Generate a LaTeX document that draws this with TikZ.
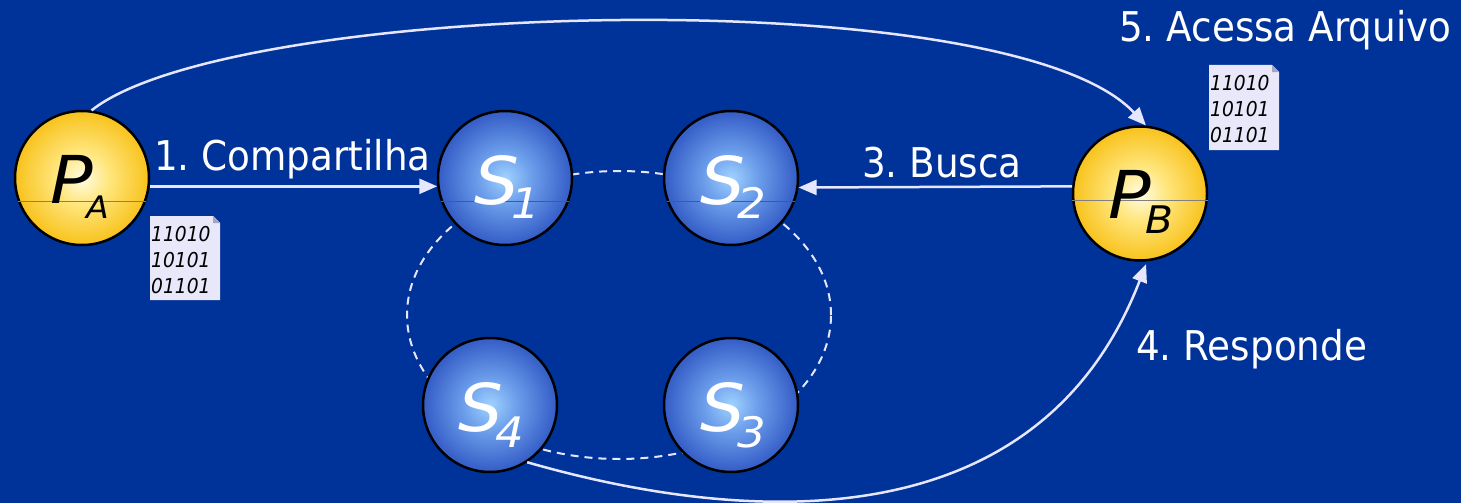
\documentclass[tikz,border=0pt]{standalone}
\usepackage{fontspec}
\setmainfont{DejaVu Sans}[FakeStretch=0.91]
\newfontfamily\lblf{DejaVu Sans}[FakeStretch=1.07]
\usetikzlibrary{arrows.meta}
\frenchspacing
\definecolor{bg}{RGB}{0,51,153}
\definecolor{arr}{RGB}{230,230,255}
\definecolor{filebg}{RGB}{232,232,250}
\definecolor{fold}{RGB}{165,165,190}
\definecolor{yca}{RGB}{255,252,228}
\definecolor{ycb}{RGB}{255,230,125}
\definecolor{ycc}{RGB}{248,194,28}
\definecolor{bca}{RGB}{160,210,255}
\definecolor{bcb}{RGB}{108,158,235}
\definecolor{bcc}{RGB}{52,92,198}
\definecolor{chy}{RGB}{128,128,128}
\definecolor{chb}{RGB}{50,90,190}
\pgfdeclareradialshading{yelball}{\pgfpoint{0bp}{0bp}}{color(0bp)=(yca); color(10bp)=(ycb); color(25bp)=(ycc); color(50bp)=(ycc)}
\pgfdeclareradialshading{bluball}{\pgfpoint{0bp}{0bp}}{color(0bp)=(bca); color(10bp)=(bcb); color(25bp)=(bcc); color(50bp)=(bcc)}
\tikzset{
 lab/.style={text=white, font=\fontsize{41}{49}\selectfont, anchor=base west, inner sep=0pt},
 conn/.style={draw=arr, line width=2.5pt, -{Triangle[length=18pt,width=15pt]}},
 ring/.style={draw=arr, line width=2pt, dash pattern=on 8pt off 6pt},
 peer/.style={circle, minimum size=134pt, inner sep=0pt, draw=black, line width=2.5pt, shading=yelball},
 srv/.style={peer, shading=bluball},
 big/.style={font=\lblf\itshape\fontsize{66}{66}\selectfont, anchor=base west, inner sep=0pt},
 subA/.style={font=\lblf\itshape\fontsize{31}{31}\selectfont, anchor=base west, inner sep=0pt},
 subB/.style={font=\lblf\itshape\fontsize{38}{38}\selectfont, anchor=base west, inner sep=0pt},
 subS/.style={font=\lblf\itshape\fontsize{42}{42}\selectfont, anchor=base west, inner sep=0pt},
 filetxt/.style={font=\itshape\fontsize{20.5}{26}\selectfont, align=left, anchor=north west, inner sep=0pt, text=black},
 chordY/.style={draw=chy, line width=1.2pt},
 chordB/.style={draw=chb, line width=1.2pt}
}
\begin{document}
\begin{tikzpicture}[x=1pt,y=-1pt]
\useasboundingbox (0,0) rectangle (1461,503);
\fill[bg] (0,0) rectangle (1461,503);
% dashed ring
\coordinate (rc) at (619,315);
\draw[ring] (rc) ellipse [x radius=212pt, y radius=144pt];
% nodes
\node[peer] (pa) at (82,178) {};
\node[srv] (s1) at (505,178) {};
\node[srv] (s2) at (731,178) {};
\node[srv] (s4) at (490,405) {};
\node[srv] (s3) at (731,405) {};
\node[peer] (pb) at (1140,193.5) {};
% chords
\draw[chordY] (pa.200) -- (pa.-20);
\draw[chordB] (s1.200) -- (s1.-20);
\draw[chordB] (s2.200) -- (s2.-20);
\draw[chordY] (pb.186.4) -- (pb.-6.4);
% node labels
\node[big, text=black] (pal) at ([shift={(-32,25)}]pa.center) {P};
\node[subA, text=black] (pas) at ([shift={(4,40)}]pa.center) {A};
\node[big, text=white] (s1l) at ([shift={(-31,26)}]s1.center) {S};
\node[subS, text=white] (s1s) at ([shift={(6,40)}]s1.center) {1};
\node[big, text=white] (s2l) at ([shift={(-31,26)}]s2.center) {S};
\node[subS, text=white] (s2s) at ([shift={(6,40)}]s2.center) {2};
\node[big, text=white] (s4l) at ([shift={(-32,26)}]s4.center) {S};
\node[subS, text=white] (s4s) at ([shift={(5,42)}]s4.center) {4};
\node[big, text=white] (s3l) at ([shift={(-31,26)}]s3.center) {S};
\node[subS, text=white] (s3s) at ([shift={(6,42)}]s3.center) {3};
\node[big, text=black] (pbl) at ([shift={(-32,24.5)}]pb.center) {P};
\node[subB, text=black] (pbs) at ([shift={(5,39.5)}]pb.center) {B};
% file icons
\coordinate (fa) at (150,216);
\fill[filebg] (fa) -- ++(63,0) -- ++(7,7) -- ++(0,77) -- ++(-70,0) -- cycle;
\fill[fold] ([shift={(63,0)}]fa) -- ++(7,7) -- ++(-7,0) -- cycle;
\node[filetxt] (fat) at ([shift={(1,10)}]fa) {11010\\10101\\01101};
\coordinate (fb) at (1209,65);
\fill[filebg] (fb) -- ++(63,0) -- ++(7,7) -- ++(0,78) -- ++(-70,0) -- cycle;
\fill[fold] ([shift={(63,0)}]fb) -- ++(7,7) -- ++(-7,0) -- cycle;
\node[filetxt] (fbt) at ([shift={(1,10)}]fb) {11010\\10101\\01101};
% connectors
\draw[conn] (pa.-7) -- (s1.187);
\draw[conn] (pb.174) -- (s2.-8);
\draw[conn] (pa.82) .. controls (230,0) and (1010,-21) .. (pb.85);
\draw[conn, shorten >=3pt] (s4.-57) .. controls (700,512) and (1030,565) .. (pb.-84);
% labels
\node[lab] (t1) at (154,170) {1. Compartilha};
\node[lab] (t3) at (862,177) {3. Busca};
\node[lab] (t4) at (1136,360) {4. Responde};
\node[lab] (t5) at (1119,42) {5. Acessa Arquivo};
\end{tikzpicture}
\end{document}
